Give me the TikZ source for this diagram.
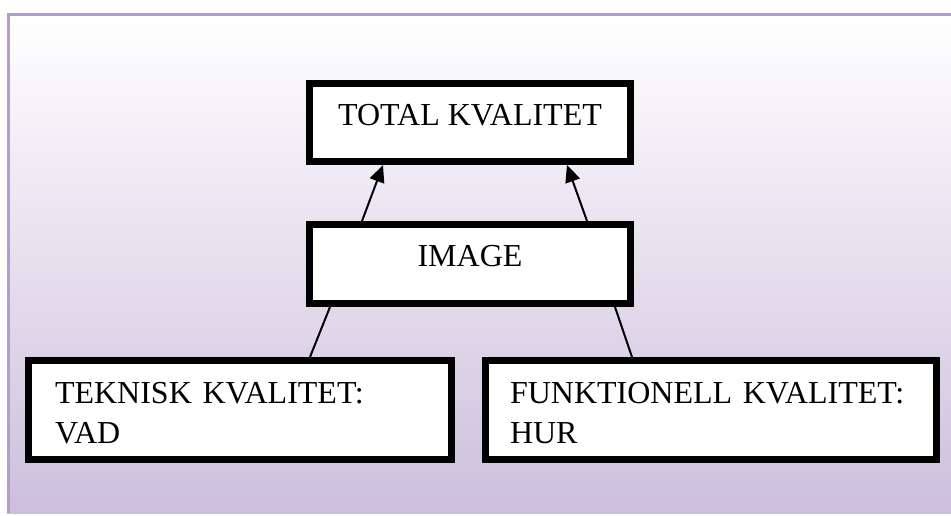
\documentclass[tikz,border=0pt]{standalone}
\usepackage{fontspec}
\setmainfont{Liberation Serif}
\usetikzlibrary{arrows.meta}
\definecolor{lavbot}{RGB}{205,191,220}
\definecolor{framec}{RGB}{176,158,203}
\begin{document}
\begin{tikzpicture}[x=1pt,y=-1pt,
  box/.style={draw=black, line width=7pt, fill=white, rectangle, inner ysep=0pt,
    font=\fontsize{32}{40}\selectfont},
  cbox/.style={box, minimum width=321pt, inner xsep=0pt, anchor=base},
  lbox/.style={box, align=left, anchor=base},
  conn/.style={draw=black, line width=2pt},
  arr/.style={conn, -{Triangle[length=17pt,width=15pt]}}]
\useasboundingbox (0,0) rectangle (951,515);
\fill[white] (0,0) rectangle (951,515);
\shade[top color=white, bottom color=lavbot] (7,13) rectangle (951,513);
\draw[framec, line width=3pt] (8.5,513) -- (8.5,14.5) -- (951,14.5);

\node[cbox, text height=41.5pt, text depth=36.5pt] (total) at (470,125) {TOTAL KVALITET};
\node[cbox, text height=41.5pt, text depth=37.5pt] (image) at (470,266) {IMAGE};
\node[lbox, text width=370pt, inner xsep=26.5pt, text height=42.5pt, text depth=56.5pt]
  (teknisk) at (240,403) {TEKNISK KVALITET:\\VAD};
\node[lbox, text width=402pt, inner xsep=24.5pt, text height=42.5pt, text depth=56.5pt]
  (funk) at (711,403) {FUNKTIONELL KVALITET:\\HUR};

\draw[arr] ([xshift=56pt]image.north west) -- ([xshift=77pt]total.south west);
\draw[arr] ([xshift=-47pt]image.north east) -- ([xshift=-67pt]total.south east);
\draw[conn] ([xshift=24pt]image.south west) -- ([xshift=285pt]teknisk.north west);
\draw[conn] ([xshift=-19pt]image.south east) -- ([xshift=150pt]funk.north west);
\end{tikzpicture}
\end{document}
